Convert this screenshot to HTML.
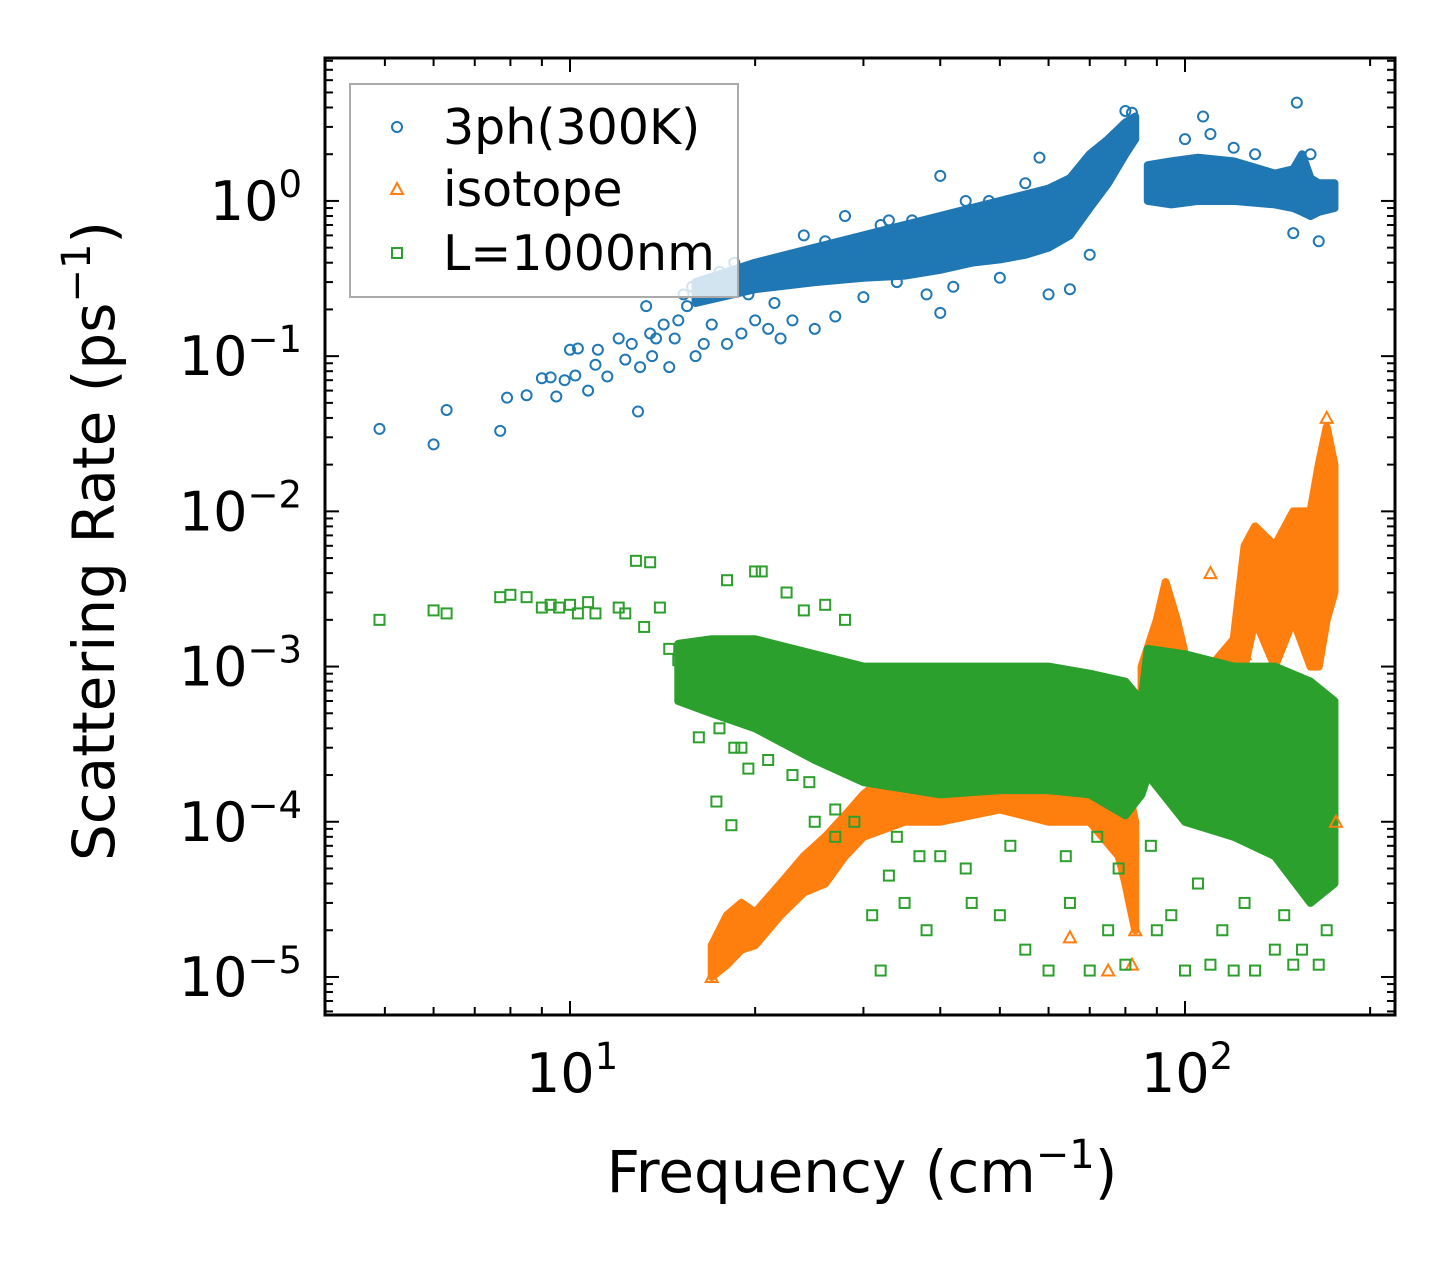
<!DOCTYPE html>
<html><head><meta charset="utf-8"><style>
html,body{margin:0;padding:0;background:#fff;width:1455px;height:1265px;overflow:hidden}
svg{display:block;font-family:"DejaVu Sans","Liberation Sans",sans-serif}
</style></head><body>
<svg id="chart" width="1455" height="1265" viewBox="0 0 1455 1265" xmlns="http://www.w3.org/2000/svg">
<g id="bands"></g>
<g id="pts"></g>
<g id="axes"></g>
<g>
<rect x="350" y="84" width="388" height="213" fill="#fff" fill-opacity="0.8" stroke="#aaa" stroke-width="2"/>
<circle cx="397" cy="127" r="5" fill="none" stroke="#1f77b4" stroke-width="2"/>
<text x="443" y="144" font-size="49">3ph(300K)</text>
<polygon points="397,183 403,194 391,194" fill="none" stroke="#ff7f0e" stroke-width="2"/>
<text x="443" y="206" font-size="49">isotope</text>
<rect x="392" y="248" width="10" height="10" fill="none" stroke="#2ca02c" stroke-width="2"/>
<text x="443" y="270" font-size="49">L=1000nm</text>
</g>
<text x="862" y="1192" font-size="58" text-anchor="middle">Frequency (cm<tspan font-size="40" dy="-24">−1</tspan><tspan dy="24">)</tspan></text>
<text transform="translate(114,541) rotate(-90)" font-size="58" text-anchor="middle">Scattering Rate (ps<tspan font-size="40" dy="-24">−1</tspan><tspan dy="24">)</tspan></text>
</svg>
<script>
// ---- data ----
const blueBandF  = [16,20,25,30,35,40,45,50,55,60,65,70,75,80,83];
const blueBandLo = [0.22,0.27,0.3,0.32,0.33,0.36,0.4,0.42,0.45,0.5,0.6,0.9,1.3,2.0,2.5];
const blueBandHi = [0.3,0.4,0.5,0.6,0.7,0.8,0.9,1.0,1.1,1.2,1.4,2.0,2.5,3.2,3.5];
const blueBand2F  = [87,95,105,120,140,150,155,160,165,175];
const blueBand2Lo = [1.0,0.95,1.0,1.0,0.95,0.9,0.85,0.8,0.85,0.9];
const blueBand2Hi = [1.7,1.8,1.9,1.8,1.5,1.6,2.0,1.4,1.3,1.3];
const blueF = [4.9,6,6.3,7.7,7.9,8.5,9,9.3,9.5,9.8,10,10.2,10.3,10.7,11,11.1,11.5,12,12.3,12.6,12.9,13,13.3,13.5,13.6,13.8,14.2,14.5,14.8,15,15.5,16,16.5,17,18,19,20,21,22,23,25,27,30,34,38,40,42,50,60,65,40,48,58,80,107,152,160,150,165,82,28,33,15.3,15.8,16.2,17.5,18.5,19.5,21.5,24,26,29,32,36,44,55,70,100,110,120,130];
const blueV = [0.034,0.027,0.045,0.033,0.054,0.056,0.072,0.073,0.055,0.07,0.11,0.075,0.112,0.06,0.088,0.11,0.074,0.13,0.095,0.12,0.044,0.085,0.21,0.14,0.1,0.13,0.16,0.085,0.13,0.17,0.21,0.1,0.12,0.16,0.12,0.14,0.17,0.15,0.13,0.17,0.15,0.18,0.24,0.3,0.25,0.19,0.28,0.32,0.25,0.27,1.45,1.0,1.9,3.8,3.5,4.3,2.0,0.62,0.55,3.7,0.8,0.75,0.25,0.28,0.24,0.35,0.4,0.25,0.22,0.6,0.55,0.5,0.7,0.75,1.0,1.3,0.45,2.5,2.7,2.2,2.0];
const orgBandF  = [17,18,19,20,22,24,26,28,30,35,40,50,60,70,78,80,83];
const orgBandLo = [1e-5,1.2e-5,1.5e-5,1.6e-5,2.5e-5,3.5e-5,4e-5,6e-5,8e-5,1e-4,1e-4,1.2e-4,1e-4,1e-4,6e-5,4e-5,2e-5];
const orgBandHi = [1.6e-5,2.5e-5,3e-5,2.6e-5,4e-5,6e-5,8e-5,1.1e-4,1.5e-4,2.5e-4,3e-4,4e-4,3e-4,3e-4,2e-4,2e-4,1e-4];
const orgBand2F  = [85,90,93,97,100,110,120,125,130,140,150,160,165,170,175];
const orgBand2Lo = [3e-4,6e-4,1e-3,6e-4,5e-4,4e-4,5e-4,1e-3,2e-3,1e-3,2e-3,1e-3,1e-3,2e-3,3e-3];
const orgBand2Hi = [1e-3,2e-3,3.5e-3,2e-3,1.2e-3,1e-3,1.5e-3,6e-3,8e-3,6e-3,1e-2,1e-2,2e-2,3.5e-2,2e-2];
const orgF = [17,82,83,75,65,140,170,176,125,110];
const orgV = [1e-5,1.2e-5,2e-5,1.1e-5,1.8e-5,1.5e-3,4e-2,1e-4,1.2e-3,4e-3];
const grnBandF  = [15,17,20,25,30,40,50,60,70,80,85,87,100,120,140,160,175];
const grnBandLo = [6e-4,5e-4,4e-4,2.5e-4,1.8e-4,1.5e-4,1.6e-4,1.6e-4,1.5e-4,1.1e-4,1.5e-4,2e-4,1e-4,8e-5,6e-5,3e-5,4e-5];
const grnBandHi = [1.4e-3,1.5e-3,1.5e-3,1.2e-3,1e-3,1e-3,1e-3,1e-3,9e-4,8e-4,6e-4,1.3e-3,1.2e-3,1e-3,1e-3,8e-4,6e-4];
const grnF = [4.9,6,6.3,7.7,8,8.5,9,9.3,9.6,10,10.3,10.7,11,12,12.3,12.8,13.5,13.2,14,14.5,15,16,17,17.3,18,18.3,20,20.5,22.5,24,26,28,16.2,19,21,31,32,33,35,38,40,45,50,55,60,65,70,75,80,90,95,100,110,115,120,130,140,150,165,170,25,27,16,17.5,18.5,19.5,22,23,24.5,27,29,34,37,44,52,64,72,78,88,105,125,145,155];
const grnV = [2e-3,2.3e-3,2.2e-3,2.8e-3,2.9e-3,2.8e-3,2.4e-3,2.5e-3,2.4e-3,2.5e-3,2.2e-3,2.6e-3,2.2e-3,2.4e-3,2.2e-3,4.8e-3,4.7e-3,1.8e-3,2.4e-3,1.3e-3,1.1e-3,6e-4,1.4e-3,1.35e-4,3.6e-3,9.5e-5,4.1e-3,4.1e-3,3e-3,2.3e-3,2.5e-3,2e-3,3.5e-4,3e-4,2.5e-4,2.5e-5,1.1e-5,4.5e-5,3e-5,2e-5,6e-5,3e-5,2.5e-5,1.5e-5,1.1e-5,3e-5,1.1e-5,2e-5,1.2e-5,2e-5,2.5e-5,1.1e-5,1.2e-5,2e-5,1.1e-5,1.1e-5,1.5e-5,1.2e-5,1.2e-5,2e-5,1e-4,8e-5,6.5e-4,4e-4,3e-4,2.2e-4,3.5e-4,2e-4,1.8e-4,1.2e-4,1e-4,8e-5,6e-5,5e-5,7e-5,6e-5,8e-5,5e-5,7e-5,4e-5,3e-5,2.5e-5,1.5e-5];
// ---- axes functions ----
const X0=325,X1=1395,Y0=58,Y1=1015;
const LXmin=0.6016,LXmax=2.3415,LYmin=-5.245,LYmax=0.921;
const xs=f=>X0+(Math.log10(f)-LXmin)/(LXmax-LXmin)*(X1-X0);
const ys=v=>Y1-(Math.log10(v)-LYmin)/(LYmax-LYmin)*(Y1-Y0);
const NS="http://www.w3.org/2000/svg";
function mk(tag,attrs,parent){const e=document.createElementNS(NS,tag);for(const k in attrs)e.setAttribute(k,attrs[k]);parent.appendChild(e);return e;}
const bands=document.getElementById('bands'),pts=document.getElementById('pts'),axes=document.getElementById('axes');
function band(F,Lo,Hi,color,name){
  const p=[];F.forEach((f,i)=>p.push(xs(f)+','+ys(Hi[i])));
  for(let i=F.length-1;i>=0;i--)p.push(xs(F[i])+','+ys(Lo[i]));
  const e=mk('polygon',{points:p.join(' '),fill:color,stroke:color,'stroke-width':8,'stroke-linejoin':'round'},bands);
  
  
}
band(blueBandF,blueBandLo,blueBandHi,'#1f77b4','band-3ph-low');
band(blueBand2F,blueBand2Lo,blueBand2Hi,'#1f77b4','band-3ph-high');
band(orgBandF,orgBandLo,orgBandHi,'#ff7f0e','band-isotope-low');
band(orgBand2F,orgBand2Lo,orgBand2Hi,'#ff7f0e','band-isotope-high');
band(grnBandF,grnBandLo,grnBandHi,'#2ca02c','band-boundary');
blueF.forEach((f,i)=>{const e=mk('circle',{cx:xs(f),cy:ys(blueV[i]),r:5,fill:'none',stroke:'#1f77b4','stroke-width':2},pts);
  
  });
orgF.forEach((f,i)=>{const x=xs(f),y=ys(orgV[i]);const e=mk('polygon',{points:`${x},${y-6} ${x+6},${y+5} ${x-6},${y+5}`,fill:'none',stroke:'#ff7f0e','stroke-width':2},pts);
  
  });
grnF.forEach((f,i)=>{const e=mk('rect',{x:xs(f)-5,y:ys(grnV[i])-5,width:10,height:10,fill:'none',stroke:'#2ca02c','stroke-width':2},pts);
  
  });
// frame
const fr=mk('rect',{x:X0,y:Y0,width:X1-X0,height:Y1-Y0,fill:'none',stroke:'#000','stroke-width':3},axes);


// x ticks
const xMajor=[1,2];
for(let d=0;d<=2;d++)for(let m=1;m<10;m++){const f=m*Math.pow(10,d);const x=xs(f);if(x<X0+1||x>X1-1)continue;
  const L=m===1?14:8;
  mk('line',{x1:x,y1:Y1,x2:x,y2:Y1-L,stroke:'#000','stroke-width':2},axes);
  mk('line',{x1:x,y1:Y0,x2:x,y2:Y0+L,stroke:'#000','stroke-width':2},axes);}
xMajor.forEach(p=>{const t=mk('text',{x:xs(Math.pow(10,p))+2,y:1092,'font-size':54,'text-anchor':'middle'},axes);
  
  
  t.innerHTML=`10<tspan font-size="37" dy="-23">${p}</tspan>`;});
// y ticks
const yMajor=[0,-1,-2,-3,-4,-5];
for(let d=-6;d<=0;d++)for(let m=1;m<10;m++){const v=m*Math.pow(10,d);const y=ys(v);if(y<Y0+1||y>Y1-1)continue;
  const L=m===1?14:8;
  mk('line',{x1:X0,y1:y,x2:X0+L,y2:y,stroke:'#000','stroke-width':2},axes);
  mk('line',{x1:X1,y1:y,x2:X1-L,y2:y,stroke:'#000','stroke-width':2},axes);}
yMajor.forEach(p=>{const t=mk('text',{x:302,y:ys(Math.pow(10,p))+19,'font-size':54,'text-anchor':'end'},axes);
  
  
  t.innerHTML=`10<tspan font-size="37" dy="-23">${p===0?'0':'−'+(-p)}</tspan>`;});
</script>
</body></html>
